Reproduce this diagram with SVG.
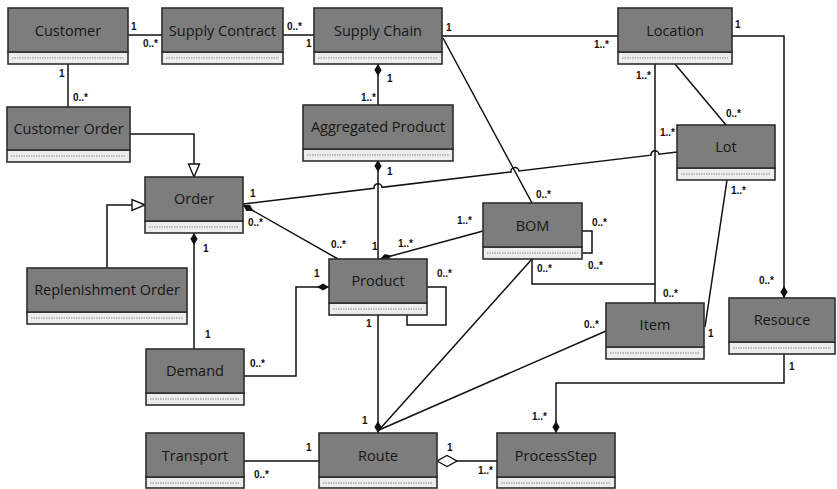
<svg xmlns="http://www.w3.org/2000/svg" width="837" height="489" viewBox="0 0 837 489">
  <style>
    .hd { fill: #7d7d7d; stroke: #2e2e2e; stroke-width: 1.6; }
    .cp { fill: #ececec; stroke: #2e2e2e; stroke-width: 1.6; }
    .dots { stroke: #8a8a8a; stroke-width: 1.2; stroke-dasharray: 1.5 1; }
    .name { font-family: "Open Sans", "Noto Sans", sans-serif; font-size: 14.5px; fill: #161616; text-anchor: middle; }
    .ln { fill: none; stroke: #111; stroke-width: 1.5; }
    .m { font-family: "Liberation Sans", Arial, sans-serif; font-size: 10px; font-weight: bold; fill: #111; }
  </style>
  <defs>
    <marker id="comp" markerUnits="userSpaceOnUse" markerWidth="14" markerHeight="10" viewBox="-13 -5 14 10" refX="0" refY="0" orient="auto">
      <path d="M0,0 L-6,-3.6 L-12,0 L-6,3.6 Z" fill="#111"/>
    </marker>
    <marker id="aggr" markerUnits="userSpaceOnUse" markerWidth="22" markerHeight="14" viewBox="-21 -7 22 14" refX="0" refY="0" orient="auto">
      <path d="M0,0 L-10,-5.5 L-20,0 L-10,5.5 Z" fill="#fff" stroke="#111" stroke-width="1.4"/>
    </marker>
    <marker id="gen" markerUnits="userSpaceOnUse" markerWidth="16" markerHeight="14" viewBox="-15 -7 16 14" refX="0" refY="0" orient="auto">
      <path d="M0,0 L-13,-5.5 L-13,5.5 Z" fill="#fff" stroke="#111" stroke-width="1.4"/>
    </marker>
  </defs>

  <!-- connectors -->
  <g id="connectors">
    <path class="ln" d="M128,35 L162,35"/>
    <path class="ln" d="M283,35 L314,35"/>
    <path class="ln" d="M442,36 L618,36"/>
    <path class="ln" d="M68,64 L68,107"/>
    <path class="ln" d="M130,134 L194,134 L194,177" marker-end="url(#gen)"/>
    <path class="ln" d="M107,268 L107,205 L145,205" marker-end="url(#gen)"/>
    <path class="ln" d="M378,105 L378,64" marker-end="url(#comp)"/>
    <path class="ln" d="M378,259 L378,160" marker-end="url(#comp)"/>
    <path class="ln" d="M443,38 L532,203"/>
    <path class="ln" d="M675,64 L726,125"/>
    <path class="ln" d="M655,64 L655,303"/>
    <path class="ln" d="M532,259 L532,284 L655,284"/>
    <path class="ln" d="M727,180 L705,327"/>
    <!-- Lot to Order, hopping over the crossing lines -->
    <path class="ln" d="M677,152 L659,154.2 A4,4 0 0 0 651,155.2 L519,171 A4,4 0 0 0 511,172 L382,187.3 A4,4 0 0 0 374,188.3 L243,204"/>
    <path class="ln" d="M338,259 L243,205" marker-end="url(#comp)"/>
    <path class="ln" d="M483,231 L380,259" marker-end="url(#comp)"/>
    <path class="ln" d="M194,349 L194,233" marker-end="url(#comp)"/>
    <path class="ln" d="M244,376 L296,376 L296,287 L329,287" marker-end="url(#comp)"/>
    <path class="ln" d="M582,231 L592,231 L592,253 L582,253"/>
    <path class="ln" d="M427,287 L446,287 L446,325 L407,325 L407,314"/>
    <path class="ln" d="M532,259 L379,430"/>
    <path class="ln" d="M606,331 L379,430"/>
    <path class="ln" d="M378,314 L378,433" marker-end="url(#comp)"/>
    <path class="ln" d="M732,36 L784,36 L784,298" marker-end="url(#comp)"/>
    <path class="ln" d="M784,353 L784,383 L556,383 L556,433" marker-end="url(#comp)"/>
    <path class="ln" d="M497,461 L437,461" marker-end="url(#aggr)"/>
    <path class="ln" d="M244,461 L319,461"/>
  </g>

  <!-- multiplicities -->
  <g id="multiplicities">
    <text class="m" x="131" y="30">1</text>
    <text class="m" x="143" y="47">0..*</text>
    <text class="m" x="287" y="30">0..*</text>
    <text class="m" x="306" y="47">1</text>
    <text class="m" x="59" y="77">1</text>
    <text class="m" x="73" y="101">0..*</text>
    <text class="m" x="446" y="31">1</text>
    <text class="m" x="594" y="48">1..*</text>
    <text class="m" x="735" y="28">1</text>
    <text class="m" x="387" y="82">1</text>
    <text class="m" x="361" y="101">1..*</text>
    <text class="m" x="387" y="175">1</text>
    <text class="m" x="636" y="79">1..*</text>
    <text class="m" x="726" y="117">0..*</text>
    <text class="m" x="660" y="136">1..*</text>
    <text class="m" x="731" y="194">1..*</text>
    <text class="m" x="250" y="197">1</text>
    <text class="m" x="248" y="226">0..*</text>
    <text class="m" x="203" y="252">1</text>
    <text class="m" x="331" y="248">0..*</text>
    <text class="m" x="372" y="250">1</text>
    <text class="m" x="398" y="247">1..*</text>
    <text class="m" x="457" y="224">1..*</text>
    <text class="m" x="536" y="198">0..*</text>
    <text class="m" x="592" y="226">0..*</text>
    <text class="m" x="588" y="269">0..*</text>
    <text class="m" x="537" y="272">0..*</text>
    <text class="m" x="663" y="297">0..*</text>
    <text class="m" x="314" y="277">1</text>
    <text class="m" x="437" y="277">0..*</text>
    <text class="m" x="366" y="327">1</text>
    <text class="m" x="250" y="367">0..*</text>
    <text class="m" x="205" y="338">1</text>
    <text class="m" x="584" y="328">0..*</text>
    <text class="m" x="708" y="337">1</text>
    <text class="m" x="759" y="284">0..*</text>
    <text class="m" x="789" y="370">1</text>
    <text class="m" x="362" y="424">1</text>
    <text class="m" x="306" y="451">1</text>
    <text class="m" x="254" y="478">0..*</text>
    <text class="m" x="447" y="451">1</text>
    <text class="m" x="478" y="474">1..*</text>
    <text class="m" x="532" y="420">1..*</text>
  </g>

  <!-- classes -->
  <g id="customer">
    <rect class="cp" x="8" y="52" width="120" height="12"/>
    <line class="dots" x1="12" y1="58" x2="124" y2="58"/>
    <rect class="hd" x="8" y="8" width="120" height="44"/>
    <text class="name" x="68" y="36">Customer</text>
  </g>
  <g id="supply-contract">
    <rect class="cp" x="162" y="52" width="121" height="12"/>
    <line class="dots" x1="166" y1="58" x2="279" y2="58"/>
    <rect class="hd" x="162" y="8" width="121" height="44"/>
    <text class="name" x="222.5" y="36">Supply Contract</text>
  </g>
  <g id="supply-chain">
    <rect class="cp" x="314" y="52" width="128" height="12"/>
    <line class="dots" x1="318" y1="58" x2="438" y2="58"/>
    <rect class="hd" x="314" y="8" width="128" height="44"/>
    <text class="name" x="378" y="36">Supply Chain</text>
  </g>
  <g id="location">
    <rect class="cp" x="618" y="52" width="114" height="12"/>
    <line class="dots" x1="622" y1="58" x2="728" y2="58"/>
    <rect class="hd" x="618" y="8" width="114" height="44"/>
    <text class="name" x="675" y="36">Location</text>
  </g>
  <g id="customer-order">
    <rect class="cp" x="7" y="150" width="123" height="12"/>
    <line class="dots" x1="11" y1="156" x2="126" y2="156"/>
    <rect class="hd" x="7" y="107" width="123" height="43"/>
    <text class="name" x="68.5" y="134">Customer Order</text>
  </g>
  <g id="aggregated-product">
    <rect class="cp" x="303" y="149" width="150" height="12"/>
    <line class="dots" x1="307" y1="155" x2="449" y2="155"/>
    <rect class="hd" x="303" y="105" width="150" height="44"/>
    <text class="name" x="378" y="132">Aggregated Product</text>
  </g>
  <g id="lot">
    <rect class="cp" x="677" y="168" width="98" height="12"/>
    <line class="dots" x1="681" y1="174" x2="771" y2="174"/>
    <rect class="hd" x="677" y="125" width="98" height="43"/>
    <text class="name" x="726" y="152">Lot</text>
  </g>
  <g id="order">
    <rect class="cp" x="145" y="221" width="98" height="12"/>
    <line class="dots" x1="149" y1="227" x2="239" y2="227"/>
    <rect class="hd" x="145" y="177" width="98" height="44"/>
    <text class="name" x="194" y="204">Order</text>
  </g>
  <g id="bom">
    <rect class="cp" x="483" y="247" width="99" height="12"/>
    <line class="dots" x1="487" y1="253" x2="578" y2="253"/>
    <rect class="hd" x="483" y="203" width="99" height="44"/>
    <text class="name" x="532.5" y="231">BOM</text>
  </g>
  <g id="product">
    <rect class="cp" x="329" y="303" width="98" height="12"/>
    <line class="dots" x1="333" y1="309" x2="423" y2="309"/>
    <rect class="hd" x="329" y="259" width="98" height="44"/>
    <text class="name" x="378" y="286">Product</text>
  </g>
  <g id="replenishment-order">
    <rect class="cp" x="27" y="312" width="160" height="12"/>
    <line class="dots" x1="31" y1="318" x2="183" y2="318"/>
    <rect class="hd" x="27" y="268" width="160" height="44"/>
    <text class="name" x="107" y="295">Replenishment Order</text>
  </g>
  <g id="item">
    <rect class="cp" x="606" y="347" width="98" height="12"/>
    <line class="dots" x1="610" y1="353" x2="700" y2="353"/>
    <rect class="hd" x="606" y="303" width="98" height="44"/>
    <text class="name" x="655" y="330">Item</text>
  </g>
  <g id="resouce">
    <rect class="cp" x="729" y="342" width="106" height="12"/>
    <line class="dots" x1="733" y1="348" x2="831" y2="348"/>
    <rect class="hd" x="729" y="298" width="106" height="44"/>
    <text class="name" x="782" y="325">Resouce</text>
  </g>
  <g id="demand">
    <rect class="cp" x="146" y="393" width="98" height="12"/>
    <line class="dots" x1="150" y1="399" x2="240" y2="399"/>
    <rect class="hd" x="146" y="349" width="98" height="44"/>
    <text class="name" x="195" y="376">Demand</text>
  </g>
  <g id="transport">
    <rect class="cp" x="146" y="477" width="98" height="11"/>
    <line class="dots" x1="150" y1="483" x2="240" y2="483"/>
    <rect class="hd" x="146" y="433" width="98" height="44"/>
    <text class="name" x="195" y="461">Transport</text>
  </g>
  <g id="route">
    <rect class="cp" x="319" y="477" width="118" height="11"/>
    <line class="dots" x1="323" y1="483" x2="433" y2="483"/>
    <rect class="hd" x="319" y="433" width="118" height="44"/>
    <text class="name" x="378" y="461">Route</text>
  </g>
  <g id="process-step">
    <rect class="cp" x="497" y="477" width="118" height="11"/>
    <line class="dots" x1="501" y1="483" x2="611" y2="483"/>
    <rect class="hd" x="497" y="433" width="118" height="44"/>
    <text class="name" x="556" y="461">ProcessStep</text>
  </g>
</svg>
